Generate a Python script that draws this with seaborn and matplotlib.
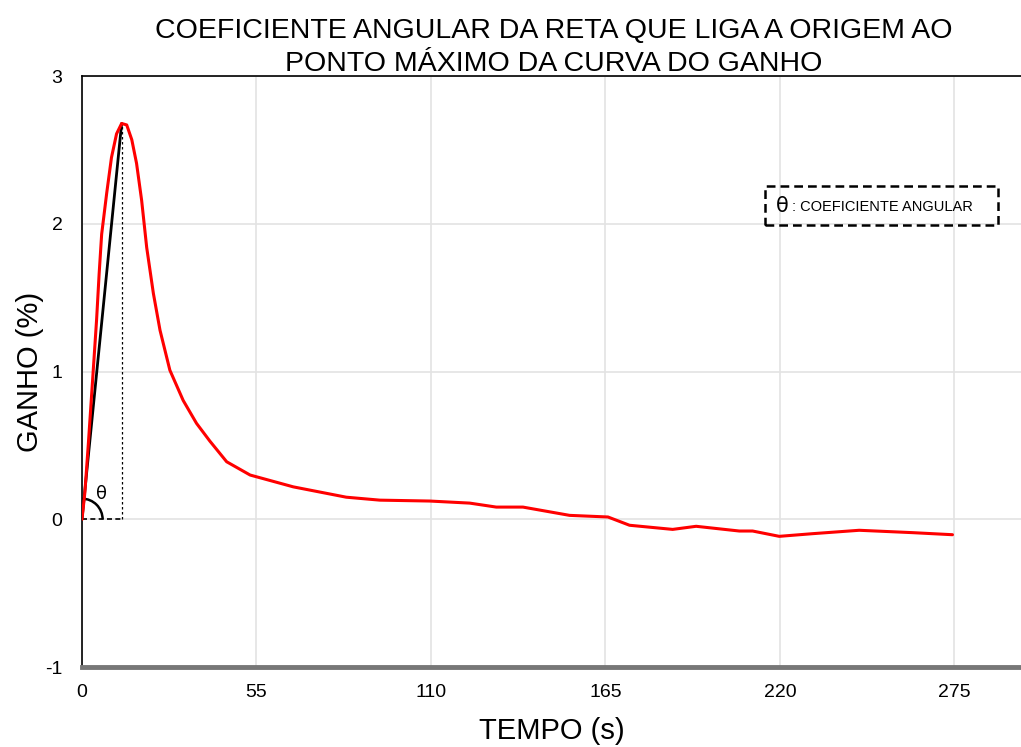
import matplotlib
matplotlib.use("Agg")
import matplotlib.pyplot as plt
from matplotlib.patches import Arc
from matplotlib.ticker import FuncFormatter
import seaborn as sns
import pandas as pd

# curve
tempo = [0, 0.9, 2.0, 3.4, 4.6, 5.4, 6.2, 7.8, 9.3, 10.9, 12.5, 14.1, 15.7, 17.2, 18.8,
         20.4, 22.5, 24.6, 27.7, 31.9, 36.1, 40.3, 45.6, 53, 66.6, 83.3, 93.9, 109.6,
         122.2, 130.6, 139, 153.7, 165.8, 172.6, 186.2, 193.6, 207.2, 211.4, 219.8,
         230.3, 245, 261.8, 274.4]
ganho = [0, 0.18, 0.51, 0.96, 1.35, 1.66, 1.93, 2.21, 2.45, 2.61, 2.68, 2.67, 2.57, 2.41, 2.16,
         1.84, 1.53, 1.28, 1.01, 0.805, 0.65, 0.53, 0.39, 0.30, 0.22, 0.15, 0.13, 0.124,
         0.11, 0.083, 0.083, 0.027, 0.016, -0.04, -0.068, -0.047, -0.079, -0.079, -0.115,
         -0.097, -0.074, -0.09, -0.104]
x_ticks = [0, 55, 110, 165, 220, 275]
y_ticks = [-1, 0, 1, 2, 3]
t_max, g_max = 12.5, 2.68

df = pd.DataFrame({"TEMPO": tempo, "GANHO": ganho})

sns.set_style("white")
plt.rcParams['font.family'] = ['Liberation Sans', 'DejaVu Sans']
plt.rcParams['text.color'] = 'black'

fig = plt.figure(figsize=(10.21, 7.47), dpi=100)
ax = fig.add_axes([0.0803, 0.107, 0.9197, 0.791])

sns.lineplot(data=df, x="TEMPO", y="GANHO", color="#ff0000", linewidth=2.2, ax=ax, zorder=4)

# reta da origem ao ponto maximo
ax.plot([0, t_max], [0, g_max], color="black", linewidth=2, zorder=3)
ax.plot([t_max, t_max], [0, g_max], color="black", linestyle=(0, (2, 2)), linewidth=0.9, zorder=3)
ax.plot([0, t_max], [0, 0], color="black", linestyle=(0, (3, 2)), linewidth=1.2, zorder=3)
ax.add_patch(Arc((0, 0), width=13, height=0.28, theta1=0, theta2=84, color="black", linewidth=1.8, zorder=3))
ax.text(4.5, 0.17, "θ", fontsize=13, ha="left", va="center", family=['DejaVu Sans'])

ax.set_xlim(0, 296)
ax.set_ylim(-1, 3)
ax.set_xticks(x_ticks)
ax.set_yticks(y_ticks)
ax.yaxis.set_major_formatter(FuncFormatter(lambda v, p: "%d" % v))
ax.grid(True, color="#e3e3e3", linewidth=1.2)
ax.set_axisbelow(True)

ax.tick_params(axis='both', labelsize=14, labelcolor='black')
ax.tick_params(axis='x', direction='inout', length=8, width=1, color='#333333', pad=8)
ax.tick_params(axis='y', direction='out', length=6, width=1, color='#333333', pad=8)

for s in ['top', 'left']:
    ax.spines[s].set_color('black')
    ax.spines[s].set_linewidth(1.2)
ax.spines['right'].set_visible(False)
ax.spines['bottom'].set_color('#777777')
ax.spines['bottom'].set_linewidth(3.5)

ax.set_xlabel("TEMPO (s)", fontsize=21, labelpad=12, color='black')
ax.set_ylabel("GANHO (%)", fontsize=21, labelpad=1, color='black')

fig.text(0.542, 0.936, "COEFICIENTE ANGULAR DA RETA QUE LIGA A ORIGEM AO\nPONTO MÁXIMO DA CURVA DO GANHO",
         ha="center", va="center", fontsize=20.5, linespacing=1.35)

# caixa de legenda tracejada
ax.text(0.746, 0.781, "θ", transform=ax.transAxes, fontsize=15, ha="center", va="center",
        family=['DejaVu Sans'])
ax.text(0.756, 0.779, ": COEFICIENTE ANGULAR", transform=ax.transAxes, fontsize=10.5,
        ha="left", va="center")
ax.add_patch(plt.Rectangle((0.727, 0.748), 0.249, 0.066, transform=ax.transAxes, fill=False,
                           edgecolor="black", linestyle=(0, (3.5, 2)), linewidth=1.8, zorder=5))

fig.savefig("out.png", dpi=100)
